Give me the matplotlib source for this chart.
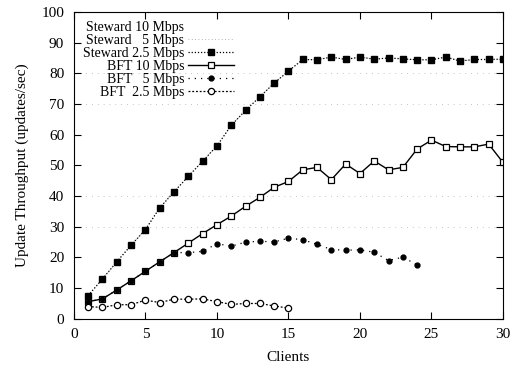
import matplotlib.pyplot as plt

plt.rcParams["font.family"] = ["Liberation Serif", "DejaVu Serif"]

clients = list(range(1, 31))
steward_25 = [7.5, 12.9, 18.5, 23.9, 29.0, 36.1, 41.3, 46.4, 51.3, 56.3, 63.0, 67.9,
              72.3, 76.8, 80.7, 84.5, 84.4, 85.3, 84.5, 85.3, 84.6, 85.0, 84.7, 84.4,
              84.4, 85.3, 84.0, 84.5, 84.5, 84.6]
# the 10 and 5 Mbps Steward curves sit under the 2.5 Mbps one
steward_10 = steward_25
steward_5 = steward_25

bft_10 = [5.5, 6.4, 9.3, 12.3, 15.4, 18.5, 21.5, 24.6, 27.7, 30.6, 33.4, 36.6,
          39.5, 42.8, 44.7, 48.5, 49.3, 45.3, 50.4, 47.3, 51.4, 48.5, 49.3, 55.3,
          58.2, 56.1, 56.0, 56.0, 56.9, 50.9]
bft_5_clients = list(range(1, 25))
bft_5 = [5.5, 6.4, 9.3, 12.3, 15.4, 18.5, 21.5, 21.5, 21.9, 24.4, 23.6, 24.9,
         25.2, 25.0, 26.2, 25.7, 24.2, 22.5, 22.3, 22.4, 21.6, 18.9, 20.0, 17.5]
bft_25_clients = list(range(1, 16))
bft_25 = [3.9, 3.6, 4.5, 4.5, 6.0, 5.2, 6.3, 6.3, 6.4, 5.5, 4.6, 4.9, 4.9, 4.1, 3.4]

fig = plt.figure(figsize=(5.13, 3.71), dpi=100)
ax = fig.add_axes([0.144, 0.1415, 0.8365, 0.8262])

# faint scan-like dotted grid
for y in [30, 40, 70, 80]:
    ax.axhline(y, color="#b0b0b0", lw=0.6, ls=(0, (1, 6)), zorder=0)

ax.plot(clients, steward_10, color="white", lw=0.5, ls=":", label="Steward 10 Mbps")
ax.plot(clients, steward_5, color="#999999", lw=0.6, ls=(0, (1, 3)), label="Steward   5 Mbps")
ax.plot(clients, steward_25, color="black", lw=0.9, ls=(0, (1, 1.5)), marker="s",
        ms=3.8, label="Steward 2.5 Mbps")
ax.plot(clients, bft_10, color="black", lw=1.0, ls="-", marker="s", ms=5,
        mfc="white", mew=0.9, label="BFT 10 Mbps")
ax.plot(bft_5_clients, bft_5, color="black", lw=0.9, ls=(0, (1, 4)), marker="o",
        ms=3.5, label="BFT   5 Mbps")
ax.plot(bft_25_clients, bft_25, color="black", lw=0.9, ls=(0, (1.5, 1.5)), marker="o",
        ms=4.5, mfc="white", mew=0.9, label="BFT  2.5 Mbps")

ax.set_xlim(0, 30)
ax.set_ylim(0, 100)
ax.set_xticks([0, 5, 10, 15, 20, 25, 30])
ax.set_yticks(range(0, 101, 10))
ax.tick_params(direction="in", length=5, top=True, right=True, labelsize=11, pad=7)
ax.set_xlabel("Clients", fontsize=11, labelpad=7)
ax.set_ylabel("Update Throughput (updates/sec)", fontsize=11, labelpad=9)

ax.legend(loc="upper left", frameon=False, markerfirst=False, fontsize=10,
          handlelength=3.3, handletextpad=0.3, labelspacing=0.0,
          borderaxespad=0.25, bbox_to_anchor=(0.0, 1.0))

fig.savefig("out.png", dpi=100)
